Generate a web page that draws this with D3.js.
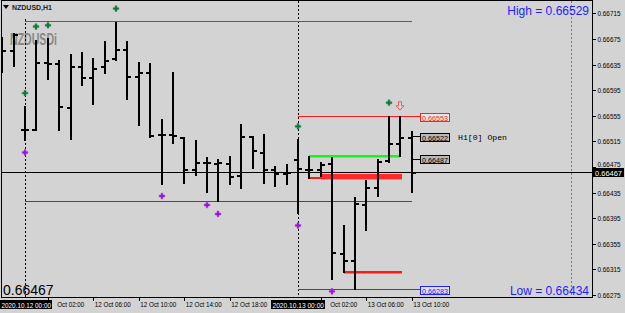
<!DOCTYPE html>
<html><head><meta charset="utf-8">
<script src="https://cdn.jsdelivr.net/npm/d3@7/dist/d3.min.js"></script>
<style>html,body{margin:0;padding:0;background:#d3d3d3;overflow:hidden}svg{display:block}</style>
</head><body><svg id="c" width="625" height="313"></svg>
<script>
// ---- data (hour offsets from 2020.10.12 00:00, H1 bars) ----
const hours = d3.range(-2, 35);
const opens  = [0.66665,0.66657,0.66534,0.66534,0.66639,0.66637,0.66569,0.66632,0.66616,0.66633,0.66645,0.66660,0.66617,0.66623,0.66526,0.66527,0.66521,0.66471,0.66482,0.66481,0.66481,0.66462,0.66523,0.66499,0.66471,0.66465,0.66488,0.66471,0.66471,0.66481,0.66340,0.66330,0.66417,0.66444,0.66486,0.66513,0.66522];
const highs  = [0.66678,0.66684,0.66570,0.66674,0.66676,0.66642,0.66651,0.66655,0.66645,0.66671,0.66702,0.66672,0.66639,0.66638,0.66550,0.66624,0.66521,0.66517,0.66491,0.66487,0.66492,0.66542,0.66523,0.66526,0.66477,0.66480,0.66518,0.66492,0.66482,0.66490,0.66384,0.66428,0.66455,0.66487,0.66555,0.66555,0.66531];
const lows   = [0.66624,0.66632,0.66517,0.66533,0.66612,0.66533,0.66518,0.66603,0.66574,0.66621,0.66642,0.66581,0.66540,0.66522,0.66449,0.66512,0.66450,0.66462,0.66435,0.66421,0.66448,0.66442,0.66474,0.66450,0.66445,0.66449,0.66403,0.66457,0.66461,0.66300,0.66311,0.66284,0.66376,0.66430,0.66482,0.66492,0.66435];
const closes = [0.66657,0.66683,0.66534,0.66639,0.66638,0.66570,0.66632,0.66616,0.66630,0.66642,0.66660,0.66617,0.66623,0.66525,0.66527,0.66525,0.66471,0.66482,0.66482,0.66483,0.66461,0.66523,0.66502,0.66471,0.66465,0.66467,0.66473,0.66471,0.66479,0.66342,0.66330,0.66418,0.66444,0.66484,0.66512,0.66522,0.66467];

const priceTicks = [0.66715,0.66675,0.66635,0.66595,0.66555,0.66515,0.66475,0.66435,0.66395,0.66355,0.66315,0.66275];
// visible time labels (the 22:00 one is hidden behind the date box, 02:00 ones partly)
const timeTickHours = [2,6,10,14,18,26,30,34];
const timeTickLabels = ["Oct 02:00","12 Oct 06:00","12 Oct 10:00","12 Oct 14:00","12 Oct 18:00","Oct 02:00","13 Oct 06:00","13 Oct 10:00"];
const separatorHours = [0, 24];
const separatorLabels = ["2020.10.12 00:00","2020.10.13 00:00"];

const upFractals = [0,1,2,8,24,32];
const downFractals = [0,12,16,17,24,27];

const prevDayHigh = 0.66702, prevDayLow = 0.66421;
const dayHigh = 0.66553, dayLow = 0.66283;
const rangeTop = 0.66492, rangeBottom = 0.66457, rangeBand = 0.66464;
const lowLevel = 0.66311;
const barOpen = 0.66522, midLevel = 0.66487;
const bid = 0.66467;
const infoHigh = "0.66529", infoLow = "0.66434";

// ---- scales ----
const svg = d3.select("#c");
const x = d3.scaleLinear().domain([0, 24]).range([25, 298]);
const y = d3.scaleLinear().domain([0.66715, 0.66275]).range([13.3, 294.9]);
const L = 2, R = 592, T = 1, B = 297;
const fmt = d3.format(".5f");
const rx = v => Math.round(x(v));
const ry = v => Math.round(y(v));

svg.append("rect").attr("width",625).attr("height",313).attr("fill","#d3d3d3");

svg.append("clipPath").attr("id","pc").append("rect").attr("x",L).attr("y",T).attr("width",R-L).attr("height",B-T);
const plot = svg.append("g").attr("clip-path","url(#pc)");

// watermark
plot.append("text").attr("x",10).attr("y",45).attr("font-family","Liberation Sans, Arial").attr("font-weight","bold")
  .attr("font-size",16).attr("fill","#888888").attr("textLength",47).attr("lengthAdjust","spacingAndGlyphs")
  .text("NZDUSDi");

// separators
plot.selectAll("line.sep").data(separatorHours).join("line").attr("class","sep")
  .attr("x1",d=>rx(d)+0.5).attr("x2",d=>rx(d)+0.5).attr("y1",(d,i)=>i===0?19:T).attr("y2",B)
  .attr("stroke","#000").attr("stroke-dasharray","2,2").attr("stroke-width",1);

// chart shift line
plot.append("line").attr("x1",571.5).attr("x2",571.5).attr("y1",T).attr("y2",B)
  .attr("stroke","#7a7a7a").attr("stroke-dasharray","2,2");

// level lines (pixel x ends)
function hline(p, x0, x1, color, h){
  const yy = y(p);
  plot.append("rect").attr("x",x0).attr("width",x1-x0).attr("y",Math.round(yy - h/2)).attr("height",h).attr("fill",color);
}
hline(prevDayHigh, rx(0), rx(34), "#ff1a1a", 1);
hline(prevDayLow, rx(0), rx(34), "#3434ff", 1);
hline(dayHigh, rx(24), 421, "#ff1a1a", 1);
hline(dayLow, rx(24), 421, "#3434ff", 1);
hline(rangeTop, rx(25), rx(33), "#1ef01e", 2.5);
hline(rangeBottom, rx(25), rx(33)+2, "#ff1a1a", 2);
plot.append("rect").attr("x",rx(26)).attr("y",y(rangeBand)).attr("width",rx(33)+2-rx(26)).attr("height",y(rangeBottom)-y(rangeBand)+1)
  .attr("fill","#ff2a2a");
hline(lowLevel, rx(28), rx(33)+2, "#ff1a1a", 2.5);
hline(barOpen, rx(34), 421, "#000", 1);
hline(midLevel, rx(34), 421, "#000", 1);
hline(bid, L, R, "#000", 1);

// OHLC bars
const bars = plot.append("g");
hours.forEach((h,i)=>{
  const cx = rx(h);
  bars.append("rect").attr("x",cx-1).attr("y",ry(highs[i])).attr("width",2).attr("height",Math.max(1,ry(lows[i])-ry(highs[i])+1)).attr("fill","#000");
  bars.append("rect").attr("x",cx-4).attr("y",ry(opens[i])).attr("width",4).attr("height",2).attr("fill","#000");
  bars.append("rect").attr("x",cx).attr("y",ry(closes[i])).attr("width",4).attr("height",2).attr("fill","#000");
});

// fractal markers
const sym = d3.symbol().type(d3.symbolCross).size(18);
plot.selectAll("path.up").data(upFractals).join("path").attr("class","up")
  .attr("transform",d=>`translate(${rx(d)},${y(highs[hours.indexOf(d)])-13})`).attr("d",sym)
  .attr("fill","#0b7a2a").attr("stroke","#2a8a6a").attr("stroke-width",0.5);
plot.selectAll("path.dn").data(downFractals).join("path").attr("class","dn")
  .attr("transform",d=>`translate(${rx(d)},${y(lows[hours.indexOf(d)])+12.5})`).attr("d",sym)
  .attr("fill","#9a10d8").attr("stroke","#b040e0").attr("stroke-width",0.5);

// red hollow down arrow above bar 33
{
  const ax = rx(33), ay = y(highs[hours.indexOf(33)]) - 10;
  plot.append("path").attr("d",`M${ax-1.5},${ay-4}h3v4h2.5l-4,4.5l-4,-4.5h2.5z`)
    .attr("fill","none").attr("stroke","#ff5a5a").attr("stroke-width",1);
}

// price labels for levels
function plabel(p, color, fill, txtColor){
  const g = svg.append("g");
  g.append("rect").attr("x",420.5).attr("y",ry(p)-3.5).attr("width",29).attr("height",8)
    .attr("fill",fill).attr("stroke",color).attr("stroke-width",1);
  g.append("text").attr("x",422).attr("y",ry(p)+3.5).attr("font-family","Liberation Sans, Arial").attr("font-size",8)
    .attr("fill",txtColor).attr("textLength",26).attr("lengthAdjust","spacingAndGlyphs").text(fmt(p));
}
plabel(dayHigh, "#ff2020", "#e6e6e6", "#ff2020");
plabel(barOpen, "#000", "#b8b8b8", "#000");
plabel(midLevel, "#000", "#b8b8b8", "#000");
plabel(dayLow, "#2020ff", "#e0e0e0", "#2020ff");
svg.append("text").attr("x",458).attr("y",ry(barOpen)+3).attr("font-family","Liberation Mono, Courier New")
  .attr("font-size",8).attr("fill","#000").attr("textLength",49).attr("lengthAdjust","spacingAndGlyphs").text("H1[0] Open");

// info text
svg.append("text").attr("x",589).attr("y",15).attr("text-anchor","end").attr("font-family","Liberation Sans, Arial")
  .attr("font-size",12).attr("fill","#1f1fff").text("High = " + infoHigh);
svg.append("text").attr("x",589).attr("y",295).attr("text-anchor","end").attr("font-family","Liberation Sans, Arial")
  .attr("font-size",12).attr("fill","#1f1fff").text("Low = " + infoLow);
svg.append("text").attr("x",3).attr("y",294.5).attr("font-family","Liberation Sans, Arial")
  .attr("font-size",14).attr("fill","#000").text(fmt(bid));

// title
svg.append("path").attr("d","M3,5h6l-3,4z").attr("fill","#000");
svg.append("text").attr("x",12).attr("y",10).attr("font-family","Liberation Sans, Arial").attr("font-weight","bold")
  .attr("font-size",8).attr("fill","#222").attr("textLength",40).attr("lengthAdjust","spacingAndGlyphs").text("NZDUSD,H1");

// frame
svg.append("rect").attr("x",L-0.5).attr("y",T-0.5).attr("width",R-L+1).attr("height",B-T+1)
  .attr("fill","none").attr("stroke","#000").attr("stroke-width",1).attr("shape-rendering","crispEdges");

// right price axis
const ya = svg.append("g").attr("transform",`translate(${R+0.5},0)`)
  .call(d3.axisRight(y).tickValues(priceTicks).tickSize(3).tickFormat(fmt));
ya.select(".domain").remove();
ya.selectAll("line").attr("stroke","#000").attr("shape-rendering","crispEdges");
ya.selectAll("text").attr("x",5).attr("font-family","Liberation Sans, Arial").attr("font-size",8).attr("fill","#000")
  .attr("textLength",23).attr("lengthAdjust","spacingAndGlyphs")
  .attr("dy",d=>Math.abs(d-bid)<0.0001?"-0.05em":"0.32em");

// bid label
svg.append("rect").attr("x",593).attr("y",ry(bid)-4).attr("width",31).attr("height",9).attr("fill","#000");
svg.append("text").attr("x",595).attr("y",ry(bid)+3.5).attr("font-family","Liberation Sans, Arial").attr("font-size",7.5)
  .attr("fill","#fff").attr("textLength",27).attr("lengthAdjust","spacingAndGlyphs").text(fmt(bid));

// bottom time axis
const xa = svg.append("g").attr("transform",`translate(0,${B+0.5})`)
  .call(d3.axisBottom(x).tickValues(timeTickHours).tickSize(3).tickFormat((d,i)=>timeTickLabels[i]));
xa.select(".domain").remove();
xa.selectAll("line").attr("stroke","#000").attr("shape-rendering","crispEdges");
xa.selectAll("text").attr("text-anchor","start").attr("y",9.5).attr("dy",0).attr("font-family","Liberation Sans, Arial")
  .attr("font-size",7.5).attr("fill","#000")
  .attr("dx",(d,i)=>timeTickLabels[i].length<10?9:1)
  .attr("textLength",(d,i)=>timeTickLabels[i].length<10?27:36).attr("lengthAdjust","spacingAndGlyphs");

// separator date labels
separatorHours.forEach((h,i)=>{
  const cx = x(h);
  const bx = Math.max(0, cx-27);
  svg.append("rect").attr("x",bx).attr("y",300).attr("width",cx+27-bx).attr("height",9).attr("fill","#000");
  svg.append("text").attr("x",bx+1.5).attr("y",307.5).attr("font-family","Liberation Sans, Arial").attr("font-size",7.5)
    .attr("fill","#fff").attr("textLength",cx+24.5-bx).attr("lengthAdjust","spacingAndGlyphs").text(separatorLabels[i]);
});
</script></body></html>
